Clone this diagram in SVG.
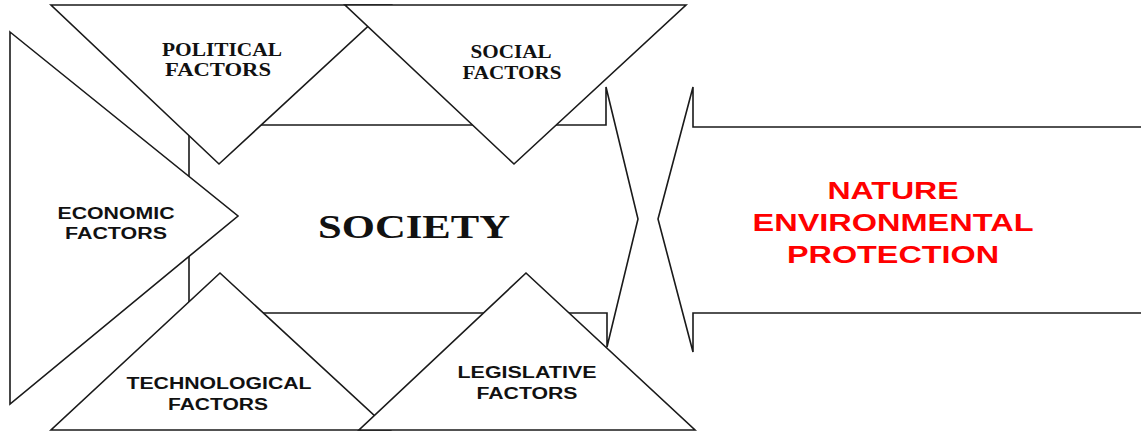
<svg xmlns="http://www.w3.org/2000/svg" width="1141" height="434" viewBox="0 0 1141 434">
<style>
.s{fill:#fff;stroke:#1a1a1a;stroke-width:1.6;stroke-linejoin:miter}
.tr{font-family:"Liberation Serif","Times New Roman",serif;font-weight:bold;fill:#111;text-anchor:middle}
.ar{font-family:"Liberation Sans",Arial,sans-serif;font-weight:bold;fill:#111;text-anchor:middle}
.red{font-family:"Liberation Sans",Arial,sans-serif;font-weight:bold;fill:#ff0000;text-anchor:middle}
</style>
<rect width="1141" height="434" fill="#fff"/>
<g id="connectors">
<g id="society">
<path class="s" d="M189,125 L606,125 L606,87 L638,219 L607,347 L607,313 L189,313 Z"/>
<text class="tr" x="414" y="238" font-size="34" textLength="192" lengthAdjust="spacingAndGlyphs">SOCIETY</text>
</g>
<g id="nature">
<path class="s" d="M1145,127 L693,127 L693,87 L658,219 L693,352 L693,313 L1145,313"/>
<text class="red" x="893" y="199" font-size="24" textLength="131" lengthAdjust="spacingAndGlyphs">NATURE</text>
<text class="red" x="893" y="231" font-size="24" textLength="281" lengthAdjust="spacingAndGlyphs">ENVIRONMENTAL</text>
<text class="red" x="893" y="263" font-size="24" textLength="212" lengthAdjust="spacingAndGlyphs">PROTECTION</text>
</g>
</g>
<g id="economic">
<path class="s" d="M10,32 L238,216 L10,404 Z"/>
<text class="ar" x="116" y="219" font-size="16" textLength="117" lengthAdjust="spacingAndGlyphs">ECONOMIC</text>
<text class="ar" x="116" y="239" font-size="16" textLength="102" lengthAdjust="spacingAndGlyphs">FACTORS</text>
</g>
<g id="political">
<path class="s" d="M51,5 L391,5 L219,164 Z"/>
<text class="tr" x="222" y="56" font-size="18" textLength="120" lengthAdjust="spacingAndGlyphs">POLITICAL</text>
<text class="tr" x="218" y="76" font-size="18" textLength="106" lengthAdjust="spacingAndGlyphs">FACTORS</text>
</g>
<g id="social">
<path class="s" d="M345,5 L686,5 L514,164 Z"/>
<text class="tr" x="511" y="58" font-size="18" textLength="81" lengthAdjust="spacingAndGlyphs">SOCIAL</text>
<text class="tr" x="512" y="79" font-size="18" textLength="99" lengthAdjust="spacingAndGlyphs">FACTORS</text>
</g>
<g id="technological">
<path class="s" d="M220,273 L390,430 L51,430 Z"/>
<text class="ar" x="219" y="389" font-size="16" textLength="185" lengthAdjust="spacingAndGlyphs">TECHNOLOGICAL</text>
<text class="ar" x="218" y="410" font-size="16" textLength="100" lengthAdjust="spacingAndGlyphs">FACTORS</text>
</g>
<g id="legislative">
<path class="s" d="M526,273 L695,430 L359,430 Z"/>
<text class="ar" x="527" y="378" font-size="16" textLength="139" lengthAdjust="spacingAndGlyphs">LEGISLATIVE</text>
<text class="ar" x="527" y="399" font-size="16" textLength="101" lengthAdjust="spacingAndGlyphs">FACTORS</text>
</g>
</svg>
